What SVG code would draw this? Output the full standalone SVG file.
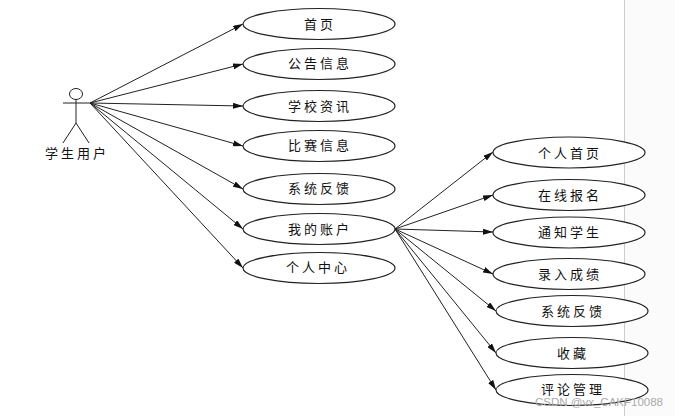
<svg xmlns="http://www.w3.org/2000/svg" width="675" height="416" viewBox="0 0 675 416">
<style>
.u{fill:#fff;stroke:#222;stroke-width:1.2}
.l{stroke:#222;stroke-width:1;fill:none;marker-end:url(#a)}
.s{stroke:#222;stroke-width:1;fill:none}
text{font-family:"Noto Sans CJK SC","Liberation Sans",sans-serif;font-size:13px;fill:#111;text-anchor:middle;letter-spacing:3px}
.w{font-family:"Liberation Sans",sans-serif;font-size:11.5px;fill:#aaa;letter-spacing:0;text-anchor:start}
</style>
<defs><marker id="a" markerUnits="userSpaceOnUse" markerWidth="11" markerHeight="6" refX="10" refY="3" orient="auto"><path d="M0 0L10 3L0 6z" fill="#111"/></marker></defs>
<rect width="675" height="416" fill="#fff"/>
<rect x="624" y="0" width="51" height="416" fill="#fbfbfb"/>
<path d="M624.500 0V416" stroke="#ccc" fill="none"/>
<g id="connectors">
<path class="l" d="M90 103L243 24"/>
<path class="l" d="M90 103L243 64"/>
<path class="l" d="M90 103L243 106"/>
<path class="l" d="M90 103L243 146"/>
<path class="l" d="M90 103L243 189"/>
<path class="l" d="M90 103L243 229"/>
<path class="l" d="M90 103L243 268"/>
<path class="l" d="M395 229L493 152"/>
<path class="l" d="M395 229L493 195"/>
<path class="l" d="M395 229L493 232"/>
<path class="l" d="M395 229L493 274"/>
<path class="l" d="M395 229L496 311"/>
<path class="l" d="M395 229L496 353"/>
<path class="l" d="M395 229L496 390"/>
</g>
<g id="actor">
<ellipse class="s" cx="76" cy="94" rx="6.500" ry="5.500"/>
<path class="s" d="M63 103H90M76 100V123M76 123L63 143M76 123L89 143"/>
<text x="77" y="158">学生用户</text>
</g>
<g id="n1"><ellipse class="u" cx="319" cy="24" rx="76" ry="15.500"/><text x="320" y="29">首页</text></g>
<g id="n2"><ellipse class="u" cx="319" cy="64" rx="76" ry="15.500"/><text x="320" y="68">公告信息</text></g>
<g id="n3"><ellipse class="u" cx="319" cy="106" rx="76" ry="15.500"/><text x="320" y="111">学校资讯</text></g>
<g id="n4"><ellipse class="u" cx="319" cy="146" rx="76" ry="15.500"/><text x="320" y="150">比赛信息</text></g>
<g id="n5"><ellipse class="u" cx="319" cy="189" rx="76" ry="15.500"/><text x="320" y="193">系统反馈</text></g>
<g id="n6"><ellipse class="u" cx="319" cy="229" rx="76" ry="15.500"/><text x="320" y="234">我的账户</text></g>
<g id="n7"><ellipse class="u" cx="319" cy="268" rx="76" ry="15.500"/><text x="318" y="272">个人中心</text></g>
<g id="m1"><ellipse class="u" cx="569" cy="152.500" rx="76" ry="15.500"/><text x="570" y="158">个人首页</text></g>
<g id="m2"><ellipse class="u" cx="569" cy="195" rx="76" ry="15.500"/><text x="570" y="200">在线报名</text></g>
<g id="m3"><ellipse class="u" cx="569" cy="232.500" rx="76" ry="15.500"/><text x="570" y="237">通知学生</text></g>
<g id="m4"><ellipse class="u" cx="569" cy="274" rx="76" ry="15.500"/><text x="570" y="279">录入成绩</text></g>
<g id="m5"><ellipse class="u" cx="572" cy="311" rx="76" ry="15.500"/><text x="573" y="316">系统反馈</text></g>
<g id="m6"><ellipse class="u" cx="572" cy="353" rx="76" ry="15.500"/><text x="573" y="358">收藏</text></g>
<g id="m7"><ellipse class="u" cx="572" cy="390" rx="76" ry="15.500"/><text x="573" y="394">评论管理</text></g>
<text class="w" x="535" y="406">CSDN @vx_CAKF10088</text>
</svg>
